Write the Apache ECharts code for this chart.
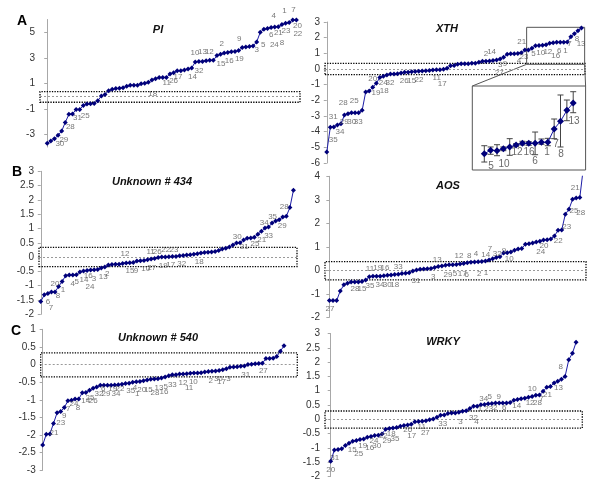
<!DOCTYPE html>
<html><head><meta charset="utf-8">
<script src="https://cdn.jsdelivr.net/npm/echarts@6/dist/echarts.min.js"></script>
<style>html,body{margin:0;padding:0;background:#fff}#c{width:600px;height:484px}</style>
</head><body><div id="c"></div>
<script>
// ---------- DATA ----------
const piValues = [-3.71,-3.52,-3.36,-3.08,-2.75,-2.07,-1.44,-1.41,-1.05,-1.05,
-0.74,-0.63,-0.61,-0.58,-0.37,0.0,0.12,0.42,0.52,0.58,
0.6,0.65,0.76,0.84,0.84,0.84,0.97,1.0,1.07,1.26,
1.36,1.46,1.46,1.46,1.73,1.83,1.99,1.99,2.04,2.12,
2.2,2.67,2.7,2.7,2.77,2.8,2.8,3.17,3.28,3.37,
3.42,3.48,3.5,3.56,3.8,3.85,3.88,3.92,4.24,5.0,
5.24,5.3,5.37,5.42,5.44,5.6,5.7,5.76,5.97,5.97];
const piLabels = [[3.5,-3.71,'30'],[4.6,-3.4,'29'],[6.4,-2.45,'28'],[8.4,-1.73,'31'],[10.5,-1.57,'25'],[29.2,0.21,'18'],[33.1,1.04,'11'],[35.0,1.18,'26'],[36.2,1.51,'17'],[40.2,1.51,'14'],[42.0,1.98,'32'],[40.9,3.4,'10'],[43.0,3.5,'13'],[44.9,3.43,'12'],[48.1,2.49,'15'],[50.4,2.75,'16'],[53.2,2.9,'19'],[48.3,4.1,'2'],[53.2,4.45,'9'],[58.0,3.66,'3'],[59.8,3.98,'5'],[62.0,4.78,'6'],[64.0,4.92,'21'],[66.1,5.12,'23'],[62.9,4.0,'24'],[65.0,4.18,'8'],[62.7,6.27,'4'],[65.7,6.67,'1'],[68.2,6.75,'7'],[69.3,5.49,'20'],[69.4,4.84,'22']];
const piTicks = [-3,-1,1,3,5];

const xthValues = [-5.3,-3.72,-3.7,-3.57,-3.49,-2.94,-2.85,-2.8,-2.8,-2.79,
-2.64,-1.47,-1.4,-1.17,-0.91,-0.55,-0.47,-0.38,-0.32,-0.32,
-0.3,-0.26,-0.21,-0.2,-0.17,-0.16,-0.15,-0.13,-0.11,-0.09,
-0.06,-0.05,-0.04,-0.02,0.04,0.21,0.23,0.3,0.34,0.34,
0.34,0.36,0.36,0.43,0.49,0.5,0.51,0.55,0.57,0.64,
0.75,0.94,0.98,0.98,0.99,1.04,1.21,1.22,1.32,1.49,
1.5,1.51,1.55,1.64,1.68,1.7,1.7,1.7,1.72,2.06,
2.25,2.44,2.62];
const xthLabels = [[1.85,-3.06,'31'],[3.74,-4.04,'34'],[1.85,-4.53,'35'],[4.67,-2.13,'28'],[7.78,-2.04,'25'],[4.96,-3.4,'29'],[7.05,-3.34,'30'],[8.91,-3.34,'33'],[12.99,-0.62,'20'],[15.98,-0.91,'24'],[17.88,-0.91,'32'],[13.92,-1.51,'19'],[16.27,-1.4,'18'],[21.92,-0.75,'26'],[24.0,-0.75,'15'],[26.08,-0.7,'22'],[31.08,-0.59,'11'],[32.66,-0.96,'17'],[45.0,1.0,'2'],[46.6,1.07,'14'],[49.0,0.3,'3'],[50.4,0.35,'9'],[54.35,0.51,'4'],[55.76,0.75,'23'],[55.1,1.74,'21'],[48.78,-0.27,'27'],[58.4,0.96,'5'],[60.5,1.04,'10'],[62.5,1.1,'12'],[64.7,0.87,'16'],[65.7,1.19,'6'],[67.5,1.19,'1'],[68.6,1.61,'7'],[70.7,1.93,'8'],[71.9,1.58,'13']];

const insetValues = [1.94,2.35,2.30,2.54,2.74,2.98,3.18,3.18,3.18,3.30,3.30,4.88,5.80,7.10,7.98];
const insetHigh = [2.89,2.74,3.01,2.74,3.73,3.13,3.42,3.37,4.52,3.69,3.77,6.07,8.93,8.33,9.32];
const insetLow = [0.95,1.87,1.7,2.3,1.75,2.82,2.98,2.94,1.82,3.06,2.89,3.73,2.74,5.87,6.82];
const insetLabels = [[1.06,0.48,'5'],[3.10,0.71,'10'],[5.15,2.14,'12'],[7.04,2.14,'16'],[7.98,1.07,'6'],[9.87,2.14,'1'],[11.29,3.1,'7'],[12.08,1.9,'8'],[14.13,5.83,'13']];

const u434Values = [-1.55,-1.32,-1.27,-1.22,-1.22,-1.03,-0.85,-0.65,-0.63,-0.63,
-0.62,-0.52,-0.49,-0.47,-0.45,-0.44,-0.43,-0.38,-0.35,-0.28,
-0.26,-0.25,-0.25,-0.22,-0.21,-0.2,-0.19,-0.14,-0.13,-0.12,
-0.09,-0.07,-0.05,-0.01,0.0,0.0,0.01,0.02,0.02,0.05,
0.06,0.07,0.08,0.1,0.12,0.14,0.16,0.17,0.18,0.2,
0.23,0.28,0.31,0.35,0.42,0.49,0.5,0.6,0.66,0.67,
0.69,0.8,0.9,1.02,1.05,1.19,1.26,1.31,1.4,1.43,1.73,2.34];
const u434Labels = [[4.0,-0.93,'20'],[6.24,-1.15,'1'],[4.84,-1.35,'8'],[2.03,-1.56,'6'],[2.87,-1.77,'7'],[8.97,-0.93,'4'],[10.09,-0.85,'5'],[12.14,-0.79,'14'],[13.35,-0.64,'16'],[14.95,-0.77,'3'],[13.83,-1.03,'24'],[17.56,-0.7,'13'],[18.69,-0.58,'2'],[23.66,0.1,'12'],[25.06,-0.48,'15'],[26.75,-0.48,'9'],[29.47,-0.41,'10'],[31.16,-0.38,'27'],[30.88,0.2,'11'],[32.73,0.2,'26'],[35.09,0.26,'22'],[37.42,0.26,'23'],[34.42,-0.3,'19'],[36.49,-0.28,'17'],[39.58,-0.24,'32'],[44.53,-0.16,'18'],[55.2,0.7,'30'],[57.17,0.37,'31'],[60.17,0.48,'25'],[62.06,0.6,'21'],[64.02,0.73,'33'],[62.79,1.2,'34'],[65.15,1.42,'35'],[67.84,1.09,'29'],[68.4,1.77,'28']];

const aosValues = [-1.29,-1.29,-1.29,-0.88,-0.62,-0.55,-0.5,-0.5,-0.5,-0.48,
-0.41,-0.27,-0.25,-0.25,-0.25,-0.23,-0.21,-0.2,-0.18,-0.17,
-0.14,-0.13,-0.1,-0.03,0.01,0.04,0.06,0.07,0.08,0.12,
0.16,0.18,0.21,0.24,0.24,0.25,0.27,0.29,0.32,0.34,
0.35,0.36,0.37,0.4,0.44,0.49,0.54,0.58,0.74,0.75,
0.78,0.85,0.91,0.93,1.11,1.13,1.16,1.2,1.24,1.29,
1.3,1.33,1.46,1.7,1.71,2.38,2.6,3.02,3.08,3.1,4.4];
const aosLabels = [[0.18,-1.65,'27'],[7.06,-0.8,'28'],[9.0,-0.8,'15'],[11.2,-0.66,'35'],[13.95,-0.63,'34'],[15.96,-0.63,'30'],[18.0,-0.6,'18'],[11.2,0.06,'11'],[13.3,0.11,'19'],[15.33,0.11,'16'],[18.99,0.14,'33'],[23.87,-0.44,'31'],[28.63,-0.29,'3'],[29.74,0.44,'13'],[32.68,-0.2,'29'],[34.61,-0.13,'5'],[36.62,-0.13,'17'],[37.84,-0.19,'6'],[35.71,0.6,'12'],[38.55,0.61,'8'],[40.4,0.71,'4'],[41.3,-0.13,'2'],[43.15,-0.1,'1'],[43.07,0.65,'14'],[44.25,0.91,'7'],[46.26,0.72,'32'],[48.11,0.83,'9'],[49.57,0.51,'10'],[59.13,1.03,'20'],[58.22,0.79,'24'],[63.07,1.25,'22'],[65.38,1.84,'23'],[67.4,2.54,'25'],[69.24,2.45,'28'],[67.75,3.49,'21']];

const u540Values = [-2.28,-1.98,-1.97,-1.67,-1.37,-1.33,-1.22,-1.03,-1.01,-0.98,
-0.98,-0.8,-0.79,-0.73,-0.67,-0.64,-0.59,-0.59,-0.59,-0.59,
-0.58,-0.57,-0.56,-0.54,-0.53,-0.5,-0.49,-0.48,-0.46,-0.44,
-0.42,-0.41,-0.4,-0.38,-0.35,-0.32,-0.29,-0.29,-0.27,-0.27,
-0.26,-0.25,-0.24,-0.24,-0.23,-0.21,-0.2,-0.19,-0.18,-0.17,
-0.15,-0.12,-0.08,-0.07,-0.06,-0.05,-0.04,0.0,0.01,0.02,
0.03,0.04,0.17,0.17,0.18,0.23,0.38,0.53];
const u540Labels = [[3.14,-1.94,'21'],[5.0,-1.66,'23'],[6.0,-1.46,'9'],[7.12,-1.26,'7'],[8.7,-1.12,'24'],[9.81,-1.24,'8'],[11.95,-1.04,'14'],[13.14,-0.93,'25'],[14.06,-1.04,'26'],[15.64,-0.84,'32'],[17.59,-0.84,'29'],[16.84,-0.69,'6'],[19.45,-0.69,'19'],[21.48,-0.69,'22'],[20.37,-0.82,'34'],[24.45,-0.75,'35'],[25.64,-0.65,'4'],[26.28,-0.84,'1'],[27.5,-0.73,'20'],[29.34,-0.71,'15'],[32.31,-0.66,'13'],[34.17,-0.64,'5'],[31.2,-0.8,'28'],[33.7,-0.78,'16'],[36.0,-0.57,'33'],[38.98,-0.53,'12'],[40.64,-0.65,'11'],[41.84,-0.49,'10'],[46.67,-0.47,'2'],[48.78,-0.4,'30'],[49.62,-0.48,'17'],[51.56,-0.41,'3'],[56.39,-0.3,'31'],[61.28,-0.17,'27']];

const wrkyValues = [-1.47,-1.07,-1.06,-1.03,-0.92,-0.84,-0.77,-0.74,-0.71,-0.69,
-0.63,-0.6,-0.57,-0.56,-0.51,-0.35,-0.32,-0.3,-0.29,-0.24,
-0.22,-0.2,-0.17,-0.09,-0.08,-0.07,-0.05,-0.02,0.01,0.07,
0.14,0.15,0.2,0.22,0.22,0.25,0.28,0.3,0.38,0.46,
0.46,0.51,0.52,0.54,0.55,0.57,0.57,0.57,0.57,0.59,
0.67,0.69,0.72,0.74,0.77,0.8,0.84,0.85,0.98,1.12,
1.15,1.27,1.33,1.4,1.5,2.08,2.31,2.69];
const wrkyLabels = [[0.0,-1.77,'20'],[1.09,-1.36,'31'],[5.9,-1.05,'15'],[7.65,-1.19,'25'],[8.74,-0.92,'19'],[10.65,-0.98,'16'],[12.57,-0.92,'30'],[11.83,-0.76,'24'],[14.37,-0.57,'22'],[15.38,-0.75,'29'],[16.55,-0.51,'18'],[17.57,-0.68,'35'],[21.04,-0.38,'26'],[22.13,-0.57,'17'],[24.86,-0.26,'11'],[25.84,-0.47,'27'],[30.6,-0.14,'33'],[35.41,-0.08,'3'],[38.96,0.07,'32'],[39.78,-0.08,'4'],[41.8,0.71,'34'],[43.44,0.77,'5'],[40.79,0.37,'1'],[43.17,0.37,'23'],[45.9,0.79,'9'],[44.89,0.41,'2'],[47.35,0.4,'6'],[50.82,0.47,'14'],[55.0,1.05,'10'],[54.45,0.58,'12'],[56.44,0.56,'28'],[57.54,0.73,'7'],[59.18,0.86,'21'],[62.18,1.1,'13'],[62.84,1.85,'8']];

// ---------- LAYOUT ----------
const FONT = '"Liberation Sans", Arial, sans-serif';
const panels = [
  {title:'PI', values:piValues, labels:piLabels, grid:{left:40, top:19.5, width:260, height:127.5}, x:[-2,70], y:{min:-4,max:6,custom:piTicks}, box:[-0.49,0.34], tx:158, ty:30},
  {title:'XTH', values:xthValues, labels:xthLabels, grid:{left:325, top:22, width:260, height:141}, x:[-0.5,73], y:{min:-6,max:3,interval:1}, box:[-0.36,0.36], tx:447, ty:29, zoomBox:[56.5,72.9,0.3,2.66]},
  {title:'Unknown # 434', values:u434Values, labels:u434Labels, grid:{left:39, top:171.3, width:258, height:143}, x:[-0.5,72], y:{min:-2,max:3,interval:0.5}, box:[-0.33,0.34], tx:152, ty:182},
  {title:'AOS', values:aosValues, labels:aosLabels, grid:{left:325, top:176.3, width:261, height:141}, x:[-1.2,70.7], y:{min:-2,max:4,interval:1}, box:[-0.41,0.37], tx:448, ty:186},
  {title:'Unknown # 540', values:u540Values, labels:u540Labels, grid:{left:40.7, top:329.3, width:256.6, height:141}, x:[-0.55,70.7], y:{min:-3,max:1,interval:0.5}, box:[-0.35,0.33], tx:158, ty:338},
  {title:'WRKY', values:wrkyValues, labels:wrkyLabels, grid:{left:325, top:333.5, width:257.3, height:143}, x:[-1.56,68.7], y:{min:-2,max:3,interval:0.5}, box:[-0.31,0.29], tx:443, ty:342}
];
const LINE = '#1c1ca6', MARK = '#00007a';
const CLEAR = 'rgba(0,0,0,0)';

const grids = [], xAxes = [], yAxes = [], series = [], graphics = [];
panels.forEach((p, i) => {
  grids.push(Object.assign({containLabel:false}, p.grid));
  xAxes.push({type:'value', gridIndex:i, min:p.x[0], max:p.x[1], show:false});
  const ya = {type:'value', gridIndex:i, min:p.y.min, max:p.y.max,
    axisLine:{show:true, lineStyle:{color:'#a8a8a8', width:1}},
    axisTick:{show:true, length:3, lineStyle:{color:'#a8a8a8'}},
    splitLine:{show:false},
    axisLabel:{fontFamily:FONT, fontSize:10, color:'#333', margin:5}};
  if (p.y.custom) { ya.axisLabel.customValues = p.y.custom; ya.axisTick.customValues = p.y.custom; }
  else ya.interval = p.y.interval;
  yAxes.push(ya);
  const areas = [[{xAxis:p.x[0], yAxis:p.box[0], itemStyle:{color:CLEAR, borderColor:'#000', borderWidth:1.3, borderType:[1.3,1.3]}}, {xAxis:p.x[1], yAxis:p.box[1]}]];
  if (p.zoomBox) areas.push([{xAxis:p.zoomBox[0], yAxis:p.zoomBox[2], itemStyle:{color:CLEAR, borderColor:'#555', borderWidth:1, borderType:'solid'}}, {xAxis:p.zoomBox[1], yAxis:p.zoomBox[3]}]);
  series.push({type:'line', xAxisIndex:i, yAxisIndex:i, data:p.values.map((v,k)=>[k,v]),
    symbol:'diamond', symbolSize:5, showSymbol:true, itemStyle:{color:MARK}, lineStyle:{color:LINE, width:1},
    animation:false, silent:true, z:5,
    markLine:{silent:true, symbol:'none', label:{show:false}, lineStyle:{color:'#999', type:[2,2], width:1}, data:[{yAxis:0}]},
    markArea:{silent:true, data:areas}});
  series.push({type:'scatter', xAxisIndex:i, yAxisIndex:i, clip:false, silent:true, animation:false, z:6,
    symbolSize:1, itemStyle:{color:CLEAR},
    data:p.labels.map(l=>({value:[l[0], l[1]], label:{formatter:l[2]}})),
    label:{show:true, position:'inside', fontFamily:FONT, fontSize:8, color:'#555'}});
  graphics.push({type:'text', x:p.tx, y:p.ty, style:{text:p.title, font:'italic bold 11px ' + FONT, fill:'#111', align:'center', verticalAlign:'middle'}});
});
// inset grid (index 6)
grids.push({left:472.3, top:86, width:113.3, height:84, show:true, borderColor:'#555', borderWidth:1, backgroundColor:'#fff', z:1});
xAxes.push({type:'value', gridIndex:6, min:-1.89, max:15.95, show:false});
yAxes.push({type:'value', gridIndex:6, min:0, max:10, show:false});
series.push({type:'custom', xAxisIndex:6, yAxisIndex:6, silent:true, animation:false, z:4,
  data:insetValues.map((v,k)=>[k, insetLow[k], insetHigh[k]]),
  renderItem:(params, api)=>{
    const x = api.value(0);
    const a = api.coord([x, api.value(2)]), b = api.coord([x, api.value(1)]);
    const st = {stroke:'#444', lineWidth:1};
    return {type:'group', children:[
      {type:'line', shape:{x1:a[0], y1:a[1], x2:b[0], y2:b[1]}, style:st},
      {type:'line', shape:{x1:a[0]-3, y1:a[1], x2:a[0]+3, y2:a[1]}, style:st},
      {type:'line', shape:{x1:b[0]-3, y1:b[1], x2:b[0]+3, y2:b[1]}, style:st}]};
  }});
series.push({type:'line', xAxisIndex:6, yAxisIndex:6, data:insetValues.map((v,k)=>[k,v]),
  symbol:'diamond', symbolSize:7, itemStyle:{color:MARK}, lineStyle:{color:LINE, width:1}, animation:false, silent:true, z:5});
series.push({type:'scatter', xAxisIndex:6, yAxisIndex:6, clip:false, silent:true, animation:false, z:6,
  symbolSize:1, itemStyle:{color:CLEAR},
  data:insetLabels.map(l=>({value:[l[0], l[1]], label:{formatter:l[2]}})),
  label:{show:true, position:'inside', fontFamily:FONT, fontSize:10, color:'#444'}});

[['A',22,21],['B',17,172],['C',16,331]].forEach(t => graphics.push({type:'text', x:t[1], y:t[2],
  style:{text:t[0], font:'bold 14px ' + FONT, fill:'#000', align:'center', verticalAlign:'middle'}}));

const chart = echarts.init(document.getElementById('c'), null, {renderer:'canvas'});
chart.setOption({animation:false, backgroundColor:'#fff', grid:grids, xAxis:xAxes, yAxis:yAxes, series:series});
// connector lines between zoom box and inset
const zb = panels[1].zoomBox;
const p1 = chart.convertToPixel({gridIndex:1}, [zb[0], zb[2]]);
const p2 = chart.convertToPixel({gridIndex:1}, [zb[1], zb[2]]);
const q1 = chart.convertToPixel({gridIndex:6}, [-1.89, 10]);
const q2 = chart.convertToPixel({gridIndex:6}, [15.95, 10]);
graphics.push({type:'line', shape:{x1:p1[0], y1:p1[1], x2:q1[0], y2:q1[1]}, style:{stroke:'#555', lineWidth:1}, z:3});
graphics.push({type:'line', shape:{x1:p2[0], y1:p2[1], x2:q2[0], y2:q2[1]}, style:{stroke:'#555', lineWidth:1}, z:3});
chart.setOption({graphic:graphics});
</script></body></html>
